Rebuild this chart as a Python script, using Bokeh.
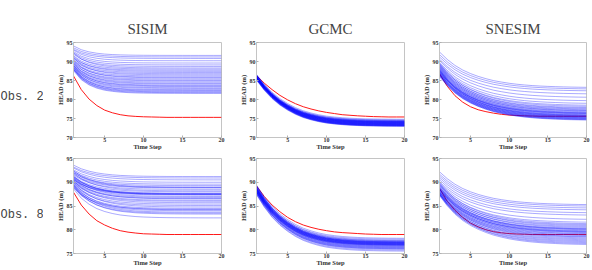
from bokeh.plotting import figure
from bokeh.layouts import column, row
from bokeh.models import Range1d, FixedTicker
from bokeh.core.properties import value
from bokeh.embed import file_html
from bokeh.resources import INLINE

# ---------------------------------------------------------------- data
time_step = list(range(1, 21))
x_ticks = [5, 10, 15, 20]

methods = ["SISIM", "GCMC", "SNESIM"]
obs_labels = ["Obs. 2", "Obs. 8"]
y_limits = {"Obs. 2": (70, 95), "Obs. 8": (75, 95)}
y_ticks = {"Obs. 2": [70, 75, 80, 85, 90, 95], "Obs. 8": [75, 80, 85, 90, 95]}

# reference (observed) head at each time step
ref_sisim_o2 = [86.2, 82.6, 80.1, 78.4, 77.2, 76.5, 76.0, 75.7, 75.55, 75.45,
                75.4, 75.35, 75.3, 75.3, 75.3, 75.3, 75.3, 75.3, 75.3, 75.3]
ref_gcmc_o2 = [86.3, 84.3, 82.6, 81.1, 79.9, 78.9, 78.1, 77.5, 77.0, 76.6,
               76.3, 76.0, 75.85, 75.7, 75.6, 75.5, 75.45, 75.4, 75.4, 75.4]
ref_snesim_o2 = [86.8, 83.5, 81.0, 79.3, 78.1, 77.3, 76.8, 76.4, 76.1, 75.9,
                 75.8, 75.7, 75.65, 75.6, 75.6, 75.6, 75.6, 75.6, 75.6, 75.6]
ref_sisim_o8 = [87.9, 85.2, 83.3, 81.9, 81.0, 80.3, 79.8, 79.5, 79.3, 79.15,
                79.1, 79.05, 79.0, 79.0, 79.0, 79.0, 79.0, 79.0, 79.0, 79.0]
ref_gcmc_o8 = [89.2, 87.0, 85.2, 83.8, 82.6, 81.7, 81.0, 80.5, 80.1, 79.8,
               79.55, 79.4, 79.3, 79.2, 79.1, 79.05, 79.0, 79.0, 79.0, 79.0]
ref_snesim_o8 = [88.7, 86.0, 84.1, 82.6, 81.4, 80.6, 80.0, 79.6, 79.35, 79.2,
                 79.1, 79.05, 79.0, 79.0, 79.0, 79.0, 79.0, 79.0, 79.0, 79.0]

# fraction of each realization's drawdown still remaining at each time step
recession_sisim_o2 = [1.0, 0.60, 0.37, 0.23, 0.14, 0.09, 0.055, 0.035, 0.022, 0.014,
                      0.009, 0.006, 0.004, 0.003, 0.002, 0.001, 0.0, 0.0, 0.0, 0.0]
recession_sisim_o8 = [1.0, 0.68, 0.47, 0.32, 0.22, 0.15, 0.10, 0.07, 0.045, 0.03,
                      0.02, 0.013, 0.008, 0.005, 0.003, 0.002, 0.001, 0.0, 0.0, 0.0]
recession_gcmc = [1.0, 0.78, 0.60, 0.46, 0.35, 0.26, 0.19, 0.14, 0.10, 0.07,
                  0.05, 0.035, 0.024, 0.016, 0.01, 0.007, 0.004, 0.002, 0.001, 0.0]
recession_snesim = [1.0, 0.79, 0.62, 0.49, 0.39, 0.31, 0.245, 0.19, 0.15, 0.115,
                    0.088, 0.067, 0.05, 0.037, 0.027, 0.019, 0.012, 0.007, 0.003, 0.0]

# simulated realizations: initial head (step 1) and steady head (step 20)
sisim_o2_start = [94.1, 93.6, 93.2, 93.0, 92.6, 92.3, 91.9, 92.2, 91.5, 91.0, 91.3, 90.8,
                  90.4, 90.9, 90.2, 89.9, 90.3, 89.6, 89.8, 89.3, 89.0, 89.5, 88.9, 88.6,
                  89.1, 88.4, 88.8, 88.2, 88.0, 88.5, 87.9, 88.1, 87.8, 87.6]
sisim_o2_end = [91.6, 91.2, 90.8, 90.2, 89.6, 89.1, 88.7, 88.3, 88.0, 87.7, 87.4, 87.1,
                86.8, 86.5, 86.2, 85.9, 85.7, 85.4, 85.1, 84.9, 84.6, 84.3, 84.1, 83.8,
                83.6, 83.4, 83.1, 82.9, 82.6, 82.4, 82.2, 82.0, 81.8, 81.6]

gcmc_o2_start = [86.6, 86.0, 86.4, 85.7, 86.2, 85.9, 86.5, 85.6, 86.1, 85.8, 86.3, 85.5,
                 86.0, 85.7, 86.4, 85.4, 85.9, 86.2, 85.6, 86.0, 85.3, 85.8, 86.1, 85.5,
                 85.9, 85.2, 85.7, 86.0, 85.4, 85.6, 85.3, 85.1]
gcmc_o2_end = [74.8, 74.6, 74.5, 74.4, 74.3, 74.25, 74.2, 74.15, 74.1, 74.05, 74.0, 73.95,
               73.9, 73.85, 73.8, 73.75, 73.7, 73.65, 73.6, 73.55, 73.5, 73.45, 73.4, 73.35,
               73.3, 73.25, 73.2, 73.15, 73.1, 73.05, 73.0, 72.95]

snesim_o2_start = [92.5, 91.8, 91.2, 90.6, 90.3, 89.8, 89.5, 89.2,
                   89.4, 88.9, 89.1, 88.6, 88.8, 88.3, 88.5, 88.0, 88.2, 87.7, 87.9, 87.5,
                   87.8, 87.2, 87.4, 87.0, 87.6, 86.8, 87.1, 86.6, 86.9, 86.4, 86.7, 86.2,
                   86.5, 86.0, 86.3, 87.3]
snesim_o2_end = [83.2, 82.8, 82.3, 81.5, 80.6, 79.7, 79.0, 78.5,
                 78.2, 77.9, 77.7, 77.5, 77.3, 77.1, 77.0, 76.8, 76.6, 76.5, 76.3, 76.2,
                 76.0, 75.9, 75.8, 75.7, 75.6, 75.5, 75.4, 75.3, 75.2, 75.1, 75.0, 74.9,
                 74.8, 74.7, 74.6, 76.4]

sisim_o8_start = [93.6, 93.2, 93.0, 92.6, 92.3, 92.0, 92.4, 91.7, 91.5, 91.9, 91.2, 91.0,
                  90.8, 91.3, 90.6, 90.9, 90.4, 90.7, 90.1, 89.9, 90.3, 89.7, 89.5, 90.0,
                  89.3, 89.6, 89.1, 89.4, 88.9, 89.2, 88.6, 91.1, 90.5, 92.1, 90.2, 88.8]
sisim_o8_end = [91.2, 90.9, 90.5, 90.0, 89.6, 89.3, 89.0, 88.8, 88.5, 88.2, 88.0, 87.7,
                87.5, 87.4, 87.3, 87.0, 86.8, 86.5, 86.2, 86.0, 85.7, 85.4, 85.1, 84.8,
                84.5, 84.2, 84.0, 83.7, 83.5, 83.3, 82.5, 87.6, 87.5, 88.9, 86.6, 84.3]

gcmc_o8_start = [89.4, 88.9, 89.2, 88.6, 89.0, 88.4, 88.8, 89.3, 88.5, 88.9, 88.2, 88.7,
                 89.1, 88.3, 88.6, 88.0, 88.8, 88.4, 88.1, 88.6, 87.9, 88.3, 88.0, 88.5,
                 87.8, 88.2, 87.7, 88.0, 87.6, 87.9, 87.5, 87.4]
gcmc_o8_end = [78.2, 78.0, 77.8, 77.7, 77.6, 77.5, 77.45, 77.4, 77.35, 77.3, 77.25, 77.2,
               77.15, 77.1, 77.05, 77.0, 76.95, 76.9, 76.85, 76.8, 76.75, 76.7, 76.6, 76.5,
               76.4, 76.3, 76.2, 76.1, 76.0, 75.9, 75.7, 75.5]

snesim_o8_start = [92.2, 91.7, 91.3, 90.9, 90.5, 90.1, 89.9, 89.6,
                   89.8, 89.3, 89.6, 89.0, 89.4, 88.8, 89.1, 88.5, 88.9, 88.3, 88.7, 88.1,
                   88.5, 87.9, 88.2, 87.8, 88.0, 87.6, 87.9, 87.5, 87.7, 87.4, 87.6, 87.3,
                   87.5, 87.2, 88.6, 88.4]
snesim_o8_end = [85.3, 85.0, 84.6, 84.2, 83.6, 83.1, 82.2, 81.6,
                 81.3, 81.1, 80.9, 80.7, 80.5, 80.3, 80.1, 80.0, 79.8, 79.7, 79.5, 79.4,
                 79.2, 79.1, 78.9, 78.8, 78.6, 78.5, 78.3, 78.1, 77.9, 77.7, 77.5, 77.3,
                 77.1, 76.9, 80.2, 79.6]

panels = {
    ("Obs. 2", "SISIM"): (ref_sisim_o2, sisim_o2_start, sisim_o2_end, recession_sisim_o2),
    ("Obs. 2", "GCMC"): (ref_gcmc_o2, gcmc_o2_start, gcmc_o2_end, recession_gcmc),
    ("Obs. 2", "SNESIM"): (ref_snesim_o2, snesim_o2_start, snesim_o2_end, recession_snesim),
    ("Obs. 8", "SISIM"): (ref_sisim_o8, sisim_o8_start, sisim_o8_end, recession_sisim_o8),
    ("Obs. 8", "GCMC"): (ref_gcmc_o8, gcmc_o8_start, gcmc_o8_end, recession_gcmc),
    ("Obs. 8", "SNESIM"): (ref_snesim_o8, snesim_o8_start, snesim_o8_end, recession_snesim),
}

# ---------------------------------------------------------------- layout
SERIF = "Liberation Serif"
PAGE_H = 270
LABEL_W = 43
frame_w = {"SISIM": 148, "GCMC": 148, "SNESIM": 147}
border_l = {"SISIM": 30, "GCMC": 30, "SNESIM": 30}
border_r = {"SISIM": 5, "GCMC": 5, "SNESIM": 6}
border_t = {"Obs. 2": 42, "Obs. 8": 4}
border_b = {"Obs. 2": 17, "Obs. 8": 17}
frame_h = 95
# distance of each row label's centre from the top of the page
label_top = {"Obs. 2": 96, "Obs. 8": 214}


def realization_curves(start, end, recession):
    ys = []
    for s, e in zip(start, end):
        ys.append([e + (s - e) * f for f in recession])
    return ys


def make_row_labels():
    p = figure(width=LABEL_W, height=PAGE_H, x_range=Range1d(0, LABEL_W),
               y_range=Range1d(PAGE_H, 0), x_axis_type=None, y_axis_type=None,
               min_border=0, toolbar_location=None, output_backend="svg")
    p.outline_line_color = None
    p.grid.visible = False
    p.text(x=[0] * len(obs_labels), y=[label_top[o] for o in obs_labels],
           text=obs_labels, text_font=value("Liberation Mono"),
           text_font_size="12px", text_color="#444444",
           text_baseline="middle", text_align="left")
    return p


def make_panel(obs, method):
    ref, start, end, recession = panels[(obs, method)]
    lo, hi = y_limits[obs]
    p = figure(frame_width=frame_w[method], frame_height=frame_h,
               min_border_left=border_l[method], min_border_right=border_r[method],
               min_border_top=border_t[obs], min_border_bottom=border_b[obs],
               x_range=Range1d(1, 20), y_range=Range1d(lo, hi),
               toolbar_location=None, output_backend="svg",
               title=method if obs == "Obs. 2" else None)
    p.background_fill_color = "white"
    p.border_fill_color = "white"
    p.outline_line_color = "#c4c4c4"
    p.grid.visible = False

    if obs == "Obs. 2":
        p.title.align = "center"
        p.title.text_font = SERIF
        p.title.text_font_size = "15px"
        p.title.text_font_style = "normal"
        p.title.text_color = "#444444"
        p.title.standoff = 11

    for ax in (p.xaxis[0], p.yaxis[0]):
        ax.axis_line_color = "#c4c4c4"
        ax.major_tick_line_color = "#b0b0b0"
        ax.major_tick_in = 2
        ax.major_tick_out = 0
        ax.minor_tick_line_color = None
        ax.major_label_text_font = SERIF
        ax.major_label_text_font_size = "6px"
        ax.major_label_text_font_style = "bold"
        ax.major_label_text_color = "#333333"
        ax.major_label_standoff = 1
        ax.axis_label_text_font = SERIF
        ax.axis_label_text_font_size = "6.5px"
        ax.axis_label_text_font_style = "bold"
        ax.axis_label_text_color = "#333333"
        ax.axis_label_standoff = 0
    p.xaxis[0].major_label_standoff = 0
    p.xaxis[0].axis_label_standoff = -2

    p.xaxis[0].ticker = FixedTicker(ticks=x_ticks)
    p.yaxis[0].ticker = FixedTicker(ticks=y_ticks[obs])
    p.xaxis[0].axis_label = "Time Step"
    p.yaxis[0].axis_label = "HEAD (m)"

    # observed curve first, simulated ensemble drawn over it
    p.line(time_step, ref, line_color="#ff1a1a", line_width=1.0)
    ys = realization_curves(start, end, recession)
    p.multi_line([time_step] * len(ys), ys, line_color="#0000ff",
                 line_alpha=0.42, line_width=0.8)
    return p


grid = column([row([make_panel(obs, m) for m in methods], spacing=0)
               for obs in obs_labels], spacing=0)
layout = row([make_row_labels(), grid], spacing=0)

open("out.html", "w").write(file_html(layout, INLINE))
